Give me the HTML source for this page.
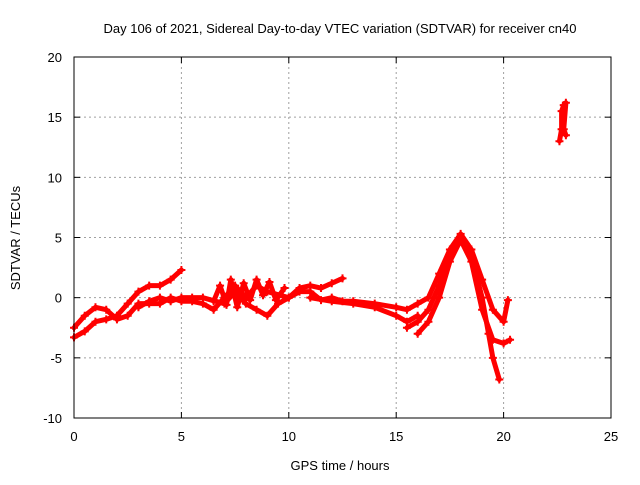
<!DOCTYPE html>
<html><head><meta charset="utf-8"><style>
body{margin:0;background:#fff}
text{font-family:"Liberation Sans",sans-serif;font-size:13px;fill:#000}
</style></head><body>
<svg id="chart" width="640" height="480">
<rect width="640" height="480" fill="#fff"/>
<text x="340" y="33" text-anchor="middle">Day 106 of 2021, Sidereal Day-to-day VTEC variation (SDTVAR) for receiver cn40</text>
<text x="340" y="470" text-anchor="middle">GPS time / hours</text>
<text transform="translate(20,238) rotate(-90)" text-anchor="middle">SDTVAR / TECUs</text>
<g id="grid"></g><g id="series"></g>
<rect x="74" y="57" width="537" height="361" fill="none" stroke="#000"/>
</svg>
<script>
const xTicks=[0,5,10,15,20,25];
const yTicks=[-10,-5,0,5,10,15,20];
const traceA=[[0,-3.3],[0.5,-2.8],[1,-2],[1.5,-1.8],[2,-1.5],[2.5,-0.5],[3,0.5],[3.5,1],[4,1],[4.5,1.5],[5,2.3]];
const traceB=[[0,-2.5],[0.5,-1.5],[1,-0.8],[1.5,-1],[2,-1.8],[2.5,-1.5],[3,-0.5],[3.5,-0.5],[4,-0.5],[4.5,0],[5,-0.3],[5.5,-0.3],[6,-0.5],[6.5,-1],[7,0],[7.5,1],[8,0],[8.5,1],[9,0.5],[10,0],[10.5,0.8],[11,1],[11.5,0.8],[12,1.2],[12.5,1.6]];
const traceC=[[3,-0.8],[3.5,-0.3],[4,0],[4.5,-0.3],[5,0],[5.5,0],[6,0],[7,-0.5],[7.5,0.5],[8,-0.5],[8.5,-1],[9,-1.5],[9.5,-0.5],[10,0],[10.5,0.5],[11,0.5],[11.5,-0.2],[12,0],[12.5,-0.3],[13,-0.3],[14,-0.5],[15,-0.8],[15.5,-1],[16,-0.5],[16.5,0],[17,2],[17.5,4],[18,5.3],[18.5,4],[19,1.5],[19.5,-1],[20,-2],[20.2,-0.2]];
const traceD=[[15.5,-2.5],[16,-2],[16.5,-1],[17,1],[17.5,3.5],[18,5],[18.5,3.5],[19,0],[19.3,-3],[19.5,-5],[19.8,-6.8]];
const traceE=[[16,-3],[16.5,-2],[17,0],[17.5,3],[18,4.8],[18.5,3],[19,-1],[19.5,-3.5],[20,-3.8],[20.3,-3.5]];
const traceF=[[11,0],[12,-0.3],[13,-0.5],[14,-0.8],[15,-1.5],[15.5,-2],[16,-1.5]];
const traceG=[[22.6,13],[22.7,14],[22.7,15.5],[22.8,16],[22.9,16.2],[22.8,14],[22.9,13.5]];
const traceH=[[6.5,-0.3],[6.8,1],[7.1,-0.6],[7.3,1.5],[7.6,-0.8],[7.9,1.2],[8.2,-0.2],[8.5,1.5],[8.8,0.2],[9.1,1.3],[9.4,-0.2],[9.8,0.8]];
const traces=[traceA,traceB,traceC,traceD,traceE,traceF,traceG,traceH];
const X=v=>74+v*(537/25), Y=v=>418-(v+10)*(361/30);
const NS="http://www.w3.org/2000/svg";
const grid=document.getElementById('grid'), ser=document.getElementById('series');
function mk(t,a,p){const e=document.createElementNS(NS,t);for(const k in a)e.setAttribute(k,a[k]);p.appendChild(e);return e;}
xTicks.forEach(t=>{
 const g=mk('line',{x1:X(t),x2:X(t),y1:57,y2:418,stroke:'#a0a0a0','stroke-dasharray':'2,3'},grid);
 
 
 mk('line',{x1:X(t),x2:X(t),y1:418,y2:412,stroke:'#000'},grid);
 mk('line',{x1:X(t),x2:X(t),y1:57,y2:63,stroke:'#000'},grid);
 const l=mk('text',{x:X(t),y:441,'text-anchor':'middle'},grid);l.textContent=t;
 
 
});
yTicks.forEach(t=>{
 const g=mk('line',{x1:74,x2:611,y1:Y(t),y2:Y(t),stroke:'#a0a0a0','stroke-dasharray':'2,3'},grid);
 
 
 mk('line',{x1:74,x2:80,y1:Y(t),y2:Y(t),stroke:'#000'},grid);
 mk('line',{x1:611,x2:605,y1:Y(t),y2:Y(t),stroke:'#000'},grid);
 const l=mk('text',{x:62,y:Y(t)+5,'text-anchor':'end'},grid);l.textContent=t;
 
 
});
traces.forEach(tr=>{
 const pl=mk('polyline',{points:tr.map(p=>X(p[0])+','+Y(p[1])).join(' '),fill:'none',stroke:'#f00','stroke-width':5,'stroke-linejoin':'round','stroke-linecap':'round'},ser);
 
 
 tr.forEach(p=>{
  const x=X(p[0]),y=Y(p[1]);
  const m=mk('path',{d:`M${x-4},${y}H${x+4}M${x},${y-4}V${y+4}`,stroke:'#f00','stroke-width':2},ser);
  
  
 });
});
</script>
</body></html>
